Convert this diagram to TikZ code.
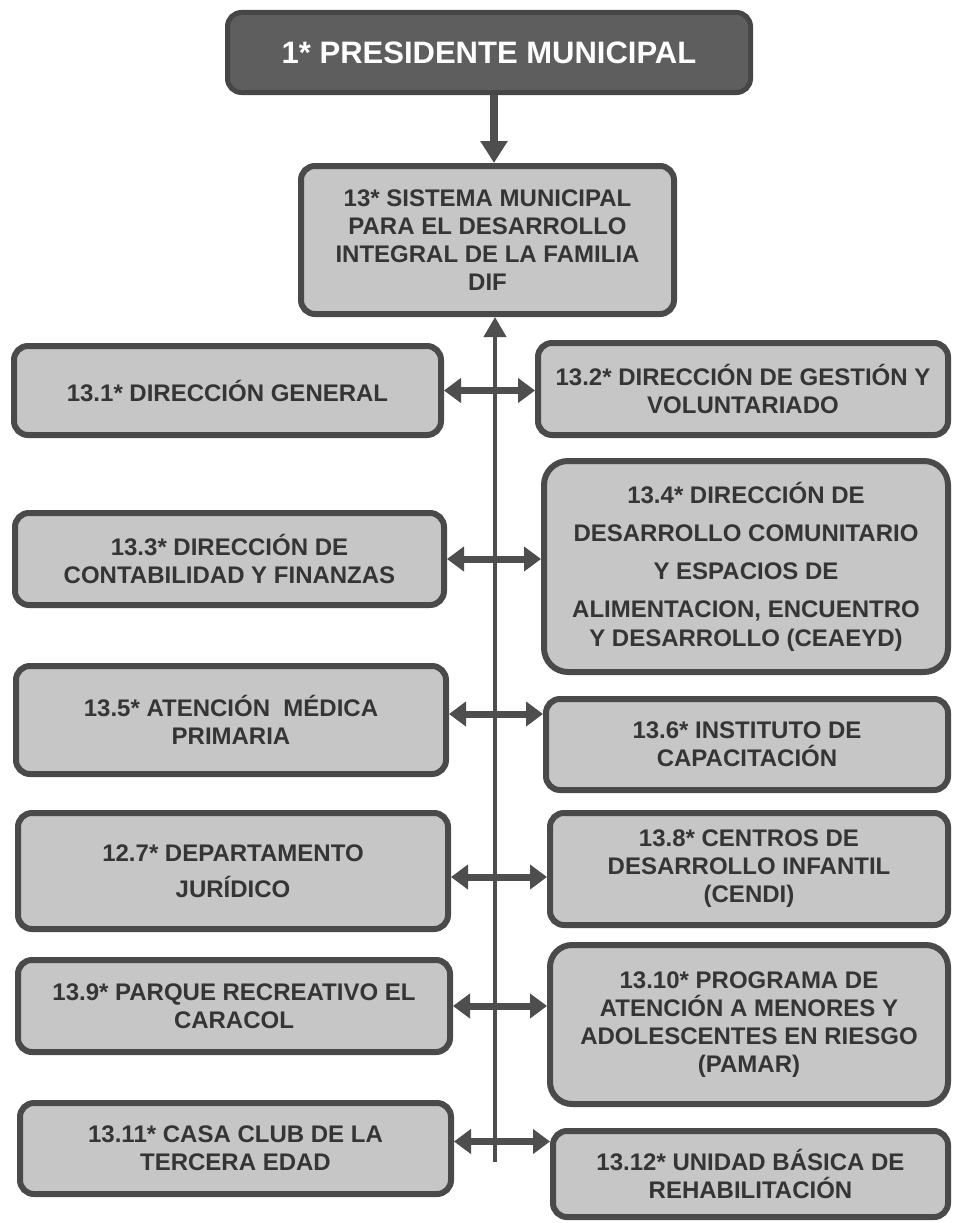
\documentclass[tikz,border=0pt]{standalone}
\usepackage{fontspec}
\setmainfont{Liberation Sans}
\usetikzlibrary{arrows.meta}
\definecolor{topfill}{HTML}{5E5E5E}
\definecolor{topbord}{HTML}{464646}
\definecolor{boxfill}{HTML}{C6C6C6}
\definecolor{boxbord}{HTML}{4A4A4A}
\definecolor{txtc}{HTML}{353535}
\definecolor{arrc}{HTML}{4E4E4E}
\begin{document}
\begin{tikzpicture}[x=1pt,y=-1pt,
  unit/.style={draw=boxbord, line width=6pt, fill=boxfill, rounded corners=14pt,
    align=center, text=txtc, inner sep=0pt,
    font=\bfseries\fontsize{24}{28}\selectfont},
  headbox/.style={draw=topbord, line width=5pt, fill=topfill, rounded corners=14pt,
    align=center, text=white, inner sep=0pt,
    font=\bfseries\fontsize{31}{36}\selectfont},
  link/.style={draw=arrc, line width=7pt, {Triangle[length=17pt,width=24pt]}-{Triangle[length=17pt,width=24pt]}},
  downlink/.style={draw=arrc, line width=8pt, -{Triangle[length=22pt,width=26pt]}},
  spine/.style={draw=arrc, line width=4pt, -{Triangle[length=20pt,width=22pt]}}
]
\useasboundingbox[fill=white] (0,0) rectangle (953,1223);

\node[headbox, minimum width=523pt, minimum height=80pt] (pres) at (489,52.5) {1* PRESIDENTE MUNICIPAL};
\node[unit, minimum width=373pt, minimum height=148pt] (dif) at (487.5,240)
  {13* SISTEMA MUNICIPAL\\PARA EL DESARROLLO\\INTEGRAL DE LA FAMILIA\\DIF};

\node[unit, minimum width=427pt, minimum height=89pt] (b1) at (227.5,390.5) {13.1* DIRECCIÓN GENERAL};
\node[unit, minimum width=410pt, minimum height=92pt] (b2) at (743,389) {13.2* DIRECCIÓN DE GESTIÓN Y\\VOLUNTARIADO};
\node[unit, minimum width=429pt, minimum height=92pt] (b3) at (229.5,559) {13.3* DIRECCIÓN DE\\CONTABILIDAD Y FINANZAS};
\node[unit, rounded corners=24pt, minimum width=404pt, minimum height=211pt,
  font=\bfseries\fontsize{24}{38}\selectfont] (b4) at (746,566.5)
  {13.4* DIRECCIÓN DE\\DESARROLLO COMUNITARIO\\Y ESPACIOS DE\\ALIMENTACION, ENCUENTRO\\[-9pt]Y DESARROLLO (CEAEYD)};
\node[unit, minimum width=430pt, minimum height=108pt] (b5) at (231,720) {13.5* ATENCIÓN\ \ MÉDICA\\PRIMARIA};
\node[unit, minimum width=402pt, minimum height=91pt] (b6) at (747,744.5) {13.6* INSTITUTO DE\\CAPACITACIÓN};
\node[unit, minimum width=430pt, minimum height=116pt,
  font=\bfseries\fontsize{24}{36}\selectfont] (b7) at (233,871) {12.7* DEPARTAMENTO\\JURÍDICO};
\node[unit, minimum width=398pt, minimum height=112pt] (b8) at (749,869) {13.8* CENTROS DE\\DESARROLLO INFANTIL\\(CENDI)};
\node[unit, minimum width=432pt, minimum height=92pt] (b9) at (234,1006) {13.9* PARQUE RECREATIVO EL\\CARACOL};
\node[unit, rounded corners=22pt, minimum width=398pt, minimum height=159pt] (b10) at (749,1024.5)
  {13.10* PROGRAMA DE\\ATENCIÓN A MENORES Y\\ADOLESCENTES EN RIESGO\\(PAMAR)};
\node[unit, minimum width=431pt, minimum height=91pt] (b11) at (235.5,1148.5) {13.11* CASA CLUB DE LA\\TERCERA EDAD};
\node[unit, minimum width=395pt, minimum height=86pt] (b12) at (750.5,1174) {13.12* UNIDAD BÁSICA DE\\REHABILITACIÓN};

\coordinate (sx) at (494,0);
\coordinate (spinebot) at (495,1162);

\draw[downlink] (pres.south -| sx) -- (dif.north -| sx);
\draw[spine] (spinebot) -- (dif.south -| spinebot);

\draw[link] (b1.east) -- (b1.east -| b2.west);
\draw[link] (b3.east) -- (b3.east -| b4.west);
\draw[link] ([yshift=6pt]b5.east) -- ([yshift=6pt]b5.east -| b6.west);
\draw[link] ([yshift=-6pt]b7.east) -- ([yshift=-6pt]b7.east -| b8.west);
\draw[link] (b9.east) -- (b9.east -| b10.west);
\draw[link] ([yshift=7pt]b11.east) -- ([yshift=7pt]b11.east -| b12.west);
\end{tikzpicture}
\end{document}
